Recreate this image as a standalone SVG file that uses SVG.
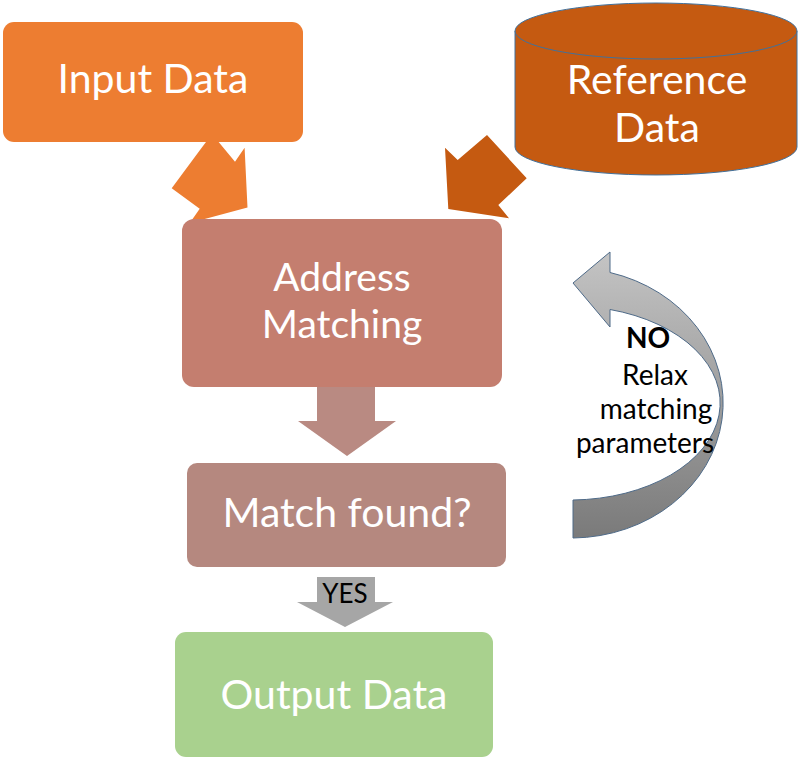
<svg xmlns="http://www.w3.org/2000/svg" width="800" height="760" viewBox="0 0 800 760">
<defs>
<linearGradient id="grayGrad" x1="0" y1="0" x2="0" y2="1">
<stop offset="0" stop-color="#C4C4C4"/>
<stop offset="1" stop-color="#7A7A7A"/>
</linearGradient>
<style>
.big{font-family:Lato,"Liberation Sans",sans-serif;font-size:41px;fill:#FFFFFF;text-anchor:middle}
.mid{font-family:Lato,"Liberation Sans",sans-serif;font-size:39px;fill:#FFFFFF;text-anchor:middle}
.small{font-family:Lato,"Liberation Sans",sans-serif;font-size:26px;fill:#000000;text-anchor:middle}
.note{font-family:Lato,"Liberation Sans",sans-serif;font-size:28px;fill:#000000;text-anchor:middle}
</style>
</defs>
<rect width="800" height="760" fill="#FFFFFF"/>
<g id="connectors">
<polygon id="arrow-input" fill="#ED7D31" points="212,134 235,161.7 244.6,147.8 247.5,207.5 189.8,223 199.7,208.7 171.7,188.3 200,150"/>
<polygon id="arrow-reference" fill="#C55A11" points="487,135 526.7,178.3 498.3,205 509,218.3 448.3,209 445,147.7 457.7,160"/>
<polygon id="arrow-down" fill="#B98A82" points="317,385 375,385 375,421 396,421 347,456 298,421 317,421"/>
<polygon id="arrow-yes" fill="#A6A6A6" points="317,577 375,577 375,602 393,602 345,627 297,602 317,602"/>
<text class="small" x="345" y="603">YES</text>
<path id="arrow-no" fill="url(#grayGrad)" stroke="#4E6A88" stroke-width="1" d="M573,283 L610,252 L610,272.5 A152,135 0 0 1 573,538 L573,500 A150,97 0 0 0 610,309.5 L610,327 Z"/>
<text class="note" x="648" y="348" font-weight="bold">NO</text>
<text class="note" x="655" y="385">Relax</text>
<text class="note" x="656" y="419">matching</text>
<text class="note" x="645" y="453">parameters</text>
</g>
<g id="input-data">
<rect x="3" y="22" width="300" height="120" rx="11" fill="#ED7D31"/>
<text class="big" x="153" y="93">Input Data</text>
</g>
<g id="reference-data">
<path d="M515,31 V147 A141,28 0 0 0 797,147 V31 Z" fill="#C55A11" stroke="#41719C" stroke-width="1"/>
<ellipse cx="656" cy="31" rx="141" ry="28" fill="#C55A11" stroke="#41719C" stroke-width="1"/>
<text class="big" x="657" y="94">Reference</text>
<text class="big" x="657" y="142">Data</text>
</g>
<g id="address-matching">
<rect x="182" y="219" width="320" height="168" rx="12" fill="#C47E6F"/>
<text class="mid" x="342" y="291">Address</text>
<text class="mid" x="342" y="338">Matching</text>
</g>
<g id="match-found">
<rect x="187" y="463" width="319" height="104" rx="10" fill="#B5887F"/>
<text class="big" x="347" y="527">Match found?</text>
</g>
<g id="output-data">
<rect x="175" y="632" width="318" height="125" rx="11" fill="#A9D18E"/>
<text class="big" x="334" y="709">Output Data</text>
</g>
</svg>
